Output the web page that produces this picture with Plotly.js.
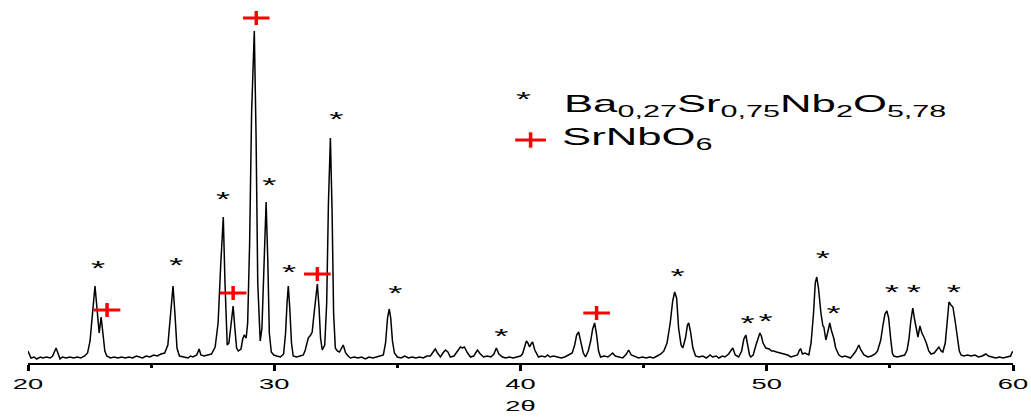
<!DOCTYPE html>
<html>
<head>
<meta charset="utf-8">
<script src="https://cdn.plot.ly/plotly-3.0.1.min.js"></script>
<style>html,body{margin:0;padding:0;background:#fff;}#chart{width:1031px;height:417px;}</style>
</head>
<body>
<div id="chart"></div>
<script>
// XRD pattern (2θ in degrees, intensity in arbitrary units)
const twoTheta = [
20.00,20.05,20.12,20.25,20.35,20.50,20.60,20.75,20.90,21.00,21.08,21.14,21.20,21.30,21.40,21.55,21.70,21.85,22.00,22.15,22.30,22.42,22.52,22.62,22.72,22.80,22.89,22.97,23.05,23.12,23.20,23.35,23.50,23.65,23.80,23.95,24.10,24.25,24.40,24.50,24.65,24.80,24.95,25.10,25.25,25.40,25.55,25.68,25.80,25.89,25.97,26.05,26.15,26.30,26.50,26.60,26.70,26.85,26.95,27.02,27.15,27.30,27.45,27.60,27.72,27.82,27.93,28.00,28.05,28.09,28.16,28.25,28.33,28.40,28.47,28.54,28.65,28.72,28.78,28.86,28.92,29.00,29.08,29.19,29.26,29.33,29.43,29.50,29.58,29.67,29.74,29.80,29.88,29.98,30.10,30.25,30.38,30.46,30.52,30.57,30.63,30.70,30.77,30.90,31.05,31.18,31.26,31.32,31.38,31.48,31.54,31.62,31.70,31.75,31.82,31.88,31.95,32.05,32.13,32.20,32.28,32.35,32.41,32.48,32.56,32.65,32.80,32.90,33.00,33.09,33.25,33.40,33.55,33.70,33.85,34.00,34.15,34.30,34.43,34.52,34.60,34.67,34.73,34.80,34.88,35.00,35.15,35.30,35.45,35.60,35.75,35.90,36.05,36.20,36.34,36.45,36.54,36.63,36.75,36.85,36.95,37.05,37.15,37.30,37.45,37.56,37.64,37.72,37.85,37.97,38.10,38.25,38.37,38.50,38.65,38.80,38.92,39.02,39.12,39.27,39.40,39.55,39.70,39.85,40.00,40.08,40.16,40.24,40.30,40.37,40.43,40.49,40.58,40.73,40.85,41.00,41.10,41.20,41.35,41.50,41.65,41.80,41.95,42.10,42.20,42.28,42.36,42.45,42.55,42.64,42.75,42.85,42.93,43.01,43.08,43.17,43.25,43.40,43.55,43.65,43.74,43.85,44.00,44.15,44.30,44.39,44.50,44.67,44.80,44.95,45.10,45.25,45.40,45.55,45.70,45.82,45.95,46.08,46.18,46.26,46.34,46.42,46.52,46.59,46.70,46.78,46.83,46.90,47.00,47.11,47.25,47.40,47.55,47.70,47.80,47.95,48.05,48.20,48.30,48.45,48.55,48.62,48.72,48.86,48.98,49.07,49.15,49.23,49.30,49.35,49.45,49.55,49.65,49.72,49.78,49.85,49.96,50.10,50.20,50.28,50.40,50.55,50.70,50.85,50.98,51.10,51.25,51.33,51.38,51.45,51.55,51.71,51.80,51.90,51.97,52.03,52.10,52.20,52.28,52.32,52.40,52.47,52.56,52.62,52.72,52.80,52.93,53.05,53.18,53.29,53.40,53.50,53.62,53.74,53.82,53.95,54.11,54.25,54.40,54.50,54.63,54.72,54.80,54.88,54.95,55.03,55.10,55.16,55.30,55.45,55.60,55.70,55.77,55.85,55.93,56.00,56.08,56.14,56.22,56.30,56.38,56.48,56.58,56.67,56.80,56.90,56.99,57.08,57.15,57.25,57.33,57.40,57.48,57.56,57.65,57.73,57.82,57.89,58.00,58.15,58.30,58.45,58.60,58.75,58.90,59.00,59.15,59.30,59.45,59.60,59.75,59.90,59.97,60.00
];
const intensity = [
12,9,5,6,4,6,5,6,5,7,11,15,11,4,6,5,6,5,6,5,7,10,22,52,77,55,30,46,28,12,7,5,6,5,6,5,6,5,7,6,5,7,6,8,7,9,10,18,50,77,48,15,7,6,5,7,6,8,14,8,7,8,9,16,40,95,146,80,30,18,20,40,57,35,15,12,14,24,28,25,40,120,250,332,230,80,22,35,100,161,100,30,11,8,7,6,9,30,60,77,55,20,7,6,7,8,13,20,25,28,31,50,72,79,55,25,13,18,60,160,225,150,50,15,12,11,18,10,7,5,6,5,6,4,6,5,6,7,8,20,45,54,45,22,10,6,5,7,5,6,5,6,5,7,7,11,14,10,6,10,13,11,6,7,12,16,15,16,10,6,7,13,9,6,7,6,9,15,9,6,5,6,5,6,7,9,17,22,20,16,19,21,13,6,7,6,8,6,7,6,5,6,8,10,18,28,31,22,10,6,12,22,34,40,30,12,6,7,6,8,10,7,6,5,9,13,8,6,5,6,5,6,5,7,9,12,20,40,62,71,65,35,18,15,25,38,40,32,15,7,6,7,5,8,6,7,5,7,6,9,13,15,8,6,12,24,28,18,8,6,8,17,25,30,27,20,15,14,12,12,11,10,9,8,6,7,8,13,14,9,10,8,20,50,80,86,75,50,37,36,23,30,40,33,25,15,8,6,7,6,5,8,12,18,13,8,6,7,9,12,23,38,49,52,45,25,10,7,6,7,8,13,23,42,55,44,33,26,37,30,26,20,12,9,10,13,16,12,11,20,45,61,58,56,42,25,12,8,7,8,7,8,6,7,9,7,6,5,6,5,6,7,11,11
];

// Phase markers: Ba0,27Sr0,75Nb2O5,78 (*)
const starX = [22.85,26.02,27.93,29.80,30.61,32.52,34.92,39.23,46.38,49.23,49.96,52.28,52.72,55.08,55.98,57.60];
const starY = [93,96,162,176,89,242,68,25,85,38,40,103,48,69,69,69];
// Phase markers: SrNbO6 (+)
const plusX = [23.21,28.33,29.27,31.75,43.09];
const plusY = [53,70,345,89,50];

const xTickVals = [20,30,40,50,60];
const xTickText = ['20','30','40','50','60'];

const FONT = 'Liberation Sans, Arial, Helvetica, sans-serif';
const axisFont = {family:FONT, size:15, color:'#000'};
const legendFont = {family:FONT, size:24, color:'#000'};
const STRETCH = 1.82; // the reference's lettering is drawn wide

const traces = [
  {x: twoTheta, y: intensity, type:'scatter', mode:'lines',
   line:{color:'#000', width:1.5}, hoverinfo:'skip', showlegend:false},
  {x: starX, y: starY, type:'scatter', mode:'text', text: starX.map(()=>'*'),
   textposition:'middle center', textfont:{family:FONT, size:20, color:'#000'},
   hoverinfo:'skip', showlegend:false},
  {x: plusX, y: plusY, type:'scatter', mode:'markers',
   marker:{symbol:'line-ew', size:19, color:'#ff0000', line:{color:'#ff0000', width:3}},
   hoverinfo:'skip', showlegend:false},
  {x: plusX, y: plusY, type:'scatter', mode:'markers',
   marker:{symbol:'line-ns', size:10, color:'#ff0000', line:{color:'#ff0000', width:3.5}},
   hoverinfo:'skip', showlegend:false},
  // legend symbols
  {x:[40.12], y:[262], type:'scatter', mode:'text', text:['*'],
   textposition:'middle center', textfont:{family:FONT, size:21, color:'#000'},
   hoverinfo:'skip', showlegend:false},
  {x:[40.41], y:[223], type:'scatter', mode:'markers',
   marker:{symbol:'line-ew', size:22, color:'#ff0000', line:{color:'#ff0000', width:3}},
   hoverinfo:'skip', showlegend:false},
  {x:[40.41], y:[223], type:'scatter', mode:'markers',
   marker:{symbol:'line-ns', size:11, color:'#ff0000', line:{color:'#ff0000', width:3.5}},
   hoverinfo:'skip', showlegend:false}
];

const layout = {
  width:1031, height:417,
  margin:{l:28, r:18, t:0, b:54, pad:0},
  paper_bgcolor:'#fff', plot_bgcolor:'#fff',
  showlegend:false,
  xaxis:{
    range:[20,60], showgrid:false, zeroline:false,
    showline:true, linecolor:'#000', linewidth:2,
    ticks:'outside', ticklen:6, tickwidth:3, tickcolor:'#000',
    tickvals:xTickVals, ticktext:xTickText, tickfont:axisFont,
    minor:{dtick:5, tick0:25, ticks:'outside', ticklen:3, tickwidth:3, tickcolor:'#000', showgrid:false},
    title:{text:'2θ', font:axisFont, standoff:10}
  },
  yaxis:{range:[0,363], visible:false, showgrid:false, zeroline:false, fixedrange:true},
  annotations:[
    {x:41.70, y:258, xref:'x', yref:'y', xanchor:'left', yanchor:'middle', showarrow:false,
     text:'Ba<sub>0,27</sub>Sr<sub>0,75</sub>Nb<sub>2</sub>O<sub>5,78</sub>', font:legendFont},
    {x:41.60, y:225, xref:'x', yref:'y', xanchor:'left', yanchor:'middle', showarrow:false,
     text:'SrNbO<sub>6</sub>', font:legendFont}
  ]
};

function widen(el, s, anchor){
  const bb = el.getBBox();
  if (!bb.width) return;
  const cx = anchor === 'left' ? bb.x : bb.x + bb.width/2;
  const prev = el.getAttribute('transform') || '';
  el.setAttribute('transform', (prev + ' translate(' + cx + ',0) scale(' + s + ',1) translate(' + (-cx) + ',0)').trim());
}

const gd = document.getElementById('chart');
Plotly.newPlot(gd, traces, layout, {displayModeBar:false, staticPlot:true}).then(function(){
  gd.querySelectorAll('.annotation-text').forEach(function(t){ widen(t, STRETCH, 'left'); });
  gd.querySelectorAll('.xtick text, .g-xtitle text, .textpoint text').forEach(function(t){ widen(t, STRETCH, 'center'); });
});
</script>
</body>
</html>
